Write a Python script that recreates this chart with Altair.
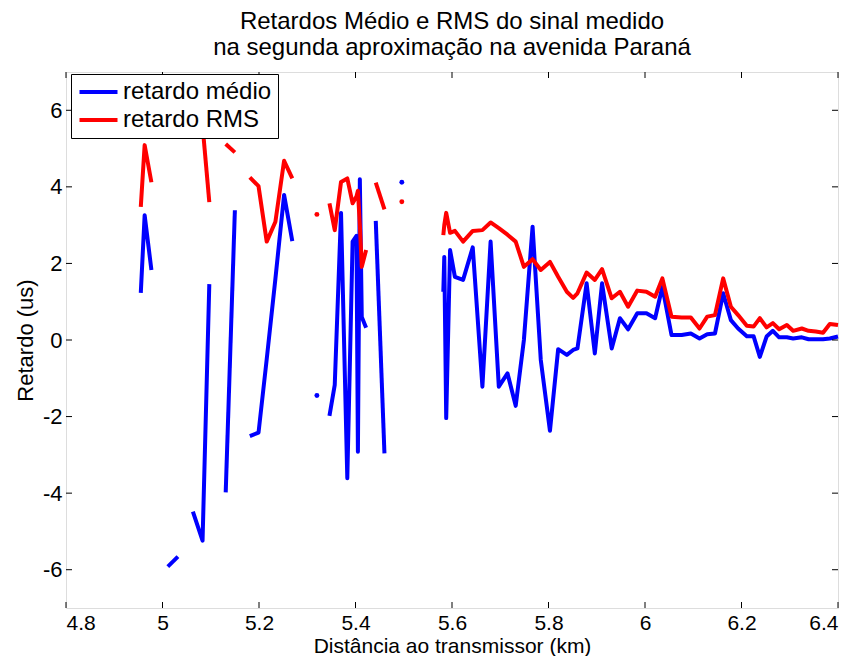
import altair as alt
import pandas as pd

x_km = [
    4.955, 4.963, 4.977,
    4.995,
    5.011, 5.032,
    5.048,
    5.063, 5.083, 5.097,
    5.114,
    5.131, 5.150,
    5.165,
    5.181, 5.199, 5.216, 5.234, 5.252, 5.269,
    5.290,
    5.320,
    5.333,
    5.346, 5.357, 5.370, 5.383, 5.394, 5.402, 5.405, 5.409, 5.413, 5.422,
    5.432,
    5.442, 5.460,
    5.478,
    5.496,
    5.540,
    5.582, 5.584, 5.588, 5.596, 5.606, 5.623, 5.643, 5.663, 5.680, 5.697,
    5.715, 5.732, 5.749, 5.767, 5.784, 5.803, 5.820, 5.838, 5.851, 5.860,
    5.879, 5.896, 5.911, 5.931, 5.948, 5.965, 5.984, 6.003, 6.021, 6.036,
    6.055, 6.076, 6.095, 6.113, 6.129, 6.145, 6.162, 6.178, 6.193, 6.211,
    6.225, 6.238, 6.252, 6.265, 6.278, 6.294, 6.307, 6.325, 6.339, 6.354,
    6.369, 6.383, 6.400,
]

retardo_medio = [
    1.23, 3.26, 1.83,
    None,
    -5.92, -5.66,
    None,
    -4.48, -5.24, 1.46,
    None,
    -3.98, 3.39,
    None,
    -2.51, -2.42, -0.50, 1.60, 3.79, 2.58,
    None,
    -1.45,
    None,
    -1.98, -1.17, 3.32, -3.61, 2.57, 2.72, -2.92, 4.20, 0.60, 0.32,
    None,
    3.11, -2.96,
    None,
    4.12,
    None,
    1.26, 2.17, -2.04, 2.35, 1.65, 1.57, 2.42, -1.22, 2.57, -1.22,
    -0.87, -1.72, 0.00, 2.96, -0.52, -2.37, -0.24, -0.39, -0.26, -0.22,
    1.48, -0.35, 1.48, -0.22, 0.57, 0.28, 0.70, 0.70, 0.57, 1.39,
    0.13, 0.13, 0.17, 0.04, 0.15, 0.17, 1.22, 0.52, 0.30, 0.10,
    0.10, -0.44, 0.09, 0.24, 0.07, 0.07, 0.04, 0.07, 0.02, 0.02,
    0.02, 0.04, 0.09,
]

retardo_rms = [
    3.48, 5.09, 4.12,
    None,
    None, None,
    None,
    None, 5.60, 3.60,
    None,
    5.12, 4.90,
    None,
    4.25, 4.02, 2.57, 3.09, 4.68, 4.22,
    None,
    3.28,
    None,
    3.57, 2.87, 4.13, 4.22, 3.57, 3.75, 3.90, 3.00, 1.91, 2.35,
    None,
    4.11, 3.41,
    None,
    3.61,
    None,
    2.74, 3.00, 3.32, 2.80, 2.85, 2.57, 2.85, 2.87, 3.07, 2.92,
    2.75, 2.57, 1.91, 2.11, 1.83, 2.04, 1.65, 1.26, 1.10, 1.22,
    1.76, 1.57, 1.85, 1.09, 1.26, 0.87, 1.29, 1.26, 1.13, 1.61,
    0.61, 0.59, 0.59, 0.30, 0.61, 0.65, 1.61, 0.87, 0.65, 0.37,
    0.35, 0.57, 0.33, 0.44, 0.28, 0.39, 0.24, 0.30, 0.24, 0.22,
    0.19, 0.42, 0.39,
]

series_names = ["retardo médio", "retardo RMS"]
series_colors = ["#0000ff", "#ff0000"]
x_ticks = [4.8, 5, 5.2, 5.4, 5.6, 5.8, 6, 6.2, 6.4]
y_ticks = [-6, -4, -2, 0, 2, 4, 6]

W, H = 772, 536
FONT = "Liberation Sans"


def rows_for(values, name):
    rows, seg, prev_gap = [], 0, True
    for x, v in zip(x_km, values):
        if v is None:
            if not prev_gap:
                seg += 1
            prev_gap = True
            continue
        prev_gap = False
        rows.append({"x": x, "y": v, "serie": name, "seg": seg})
    df = pd.DataFrame(rows)
    counts = df.groupby("seg")["seg"].transform("count")
    df["single"] = counts == 1
    return df


df_m = rows_for(retardo_medio, series_names[0])
df_r = rows_for(retardo_rms, series_names[1])
df_all = pd.concat([df_m, df_r], ignore_index=True)

x_scale = alt.Scale(domain=[4.8, 6.4], nice=False, zero=False)
y_scale = alt.Scale(domain=[-7, 7], nice=False, zero=False)
color = alt.Color(
    "serie:N",
    scale=alt.Scale(domain=series_names, range=series_colors),
    legend=alt.Legend(
        title=None,
        orient="none",
        legendX=5,
        legendY=2,
        symbolType="M-1,0H3",
        symbolStrokeWidth=4,
        symbolSize=361,
        labelFontSize=24,
        labelFont=FONT,
        labelColor="black",
        labelOffset=22,
        rowPadding=4,
        padding=6,
        fillColor="white",
        strokeColor="black",
        cornerRadius=0,
    ),
)

x_axis = alt.Axis(
    values=x_ticks,
    labelExpr="'' + datum.value",
    grid=False,
    ticks=False,
    domain=False,
    labelFontSize=21,
    labelFont=FONT,
    labelColor="black",
    labelPadding=4,
    titleFontSize=21,
    titleFont=FONT,
    titleFontWeight="normal",
    titleColor="black",
    titlePadding=2,
)
y_axis = alt.Axis(
    values=y_ticks,
    labelExpr="'' + datum.value",
    grid=False,
    ticks=False,
    domain=False,
    labelFontSize=22,
    labelFont=FONT,
    labelColor="black",
    labelPadding=4,
    titleFontSize=22,
    titleFont=FONT,
    titleFontWeight="normal",
    titleColor="black",
    titlePadding=5,
)
x_enc = alt.X("x:Q", scale=x_scale, title="Distância ao transmissor (km)", axis=x_axis)
y_enc = alt.Y("y:Q", scale=y_scale, title="Retardo (us)", axis=y_axis)

line_m = alt.Chart(df_m).mark_line(strokeWidth=4, strokeJoin="round").encode(
    x=x_enc, y=y_enc, color=color, detail="seg:N"
)
line_r = alt.Chart(df_r).mark_line(strokeWidth=4, strokeJoin="round").encode(
    x=x_enc, y=y_enc, color=color, detail="seg:N"
)
dots = alt.Chart(df_all).transform_filter("datum.single").mark_circle(
    size=24, opacity=1
).encode(x=x_enc, y=y_enc, color=color)

xt = pd.DataFrame({"x": x_ticks})
yt = pd.DataFrame({"y": y_ticks})
tick_style = dict(color="black", strokeWidth=1)
xb = alt.Chart(xt).mark_rule(**tick_style).encode(
    x=x_enc, y=alt.value(H), y2=alt.value(H - 6)
)
xtop = alt.Chart(xt).mark_rule(**tick_style).encode(
    x=x_enc, y=alt.value(0), y2=alt.value(6)
)
yl = alt.Chart(yt).mark_rule(**tick_style).encode(
    y=y_enc, x=alt.value(0), x2=alt.value(6)
)
yr = alt.Chart(yt).mark_rule(**tick_style).encode(
    y=y_enc, x=alt.value(W), x2=alt.value(W - 6)
)

chart = (
    alt.layer(line_m, line_r, dots, xb, xtop, yl, yr)
    .properties(
        width=W,
        height=H,
        autosize=alt.AutoSizeParams(type="none"),
        padding={"left": 58, "top": 64, "right": 4, "bottom": 48},
        title=alt.Title(
            ["Retardos Médio e RMS do sinal medido", "na segunda aproximação na avenida Paraná"],
            font=FONT,
            fontSize=24,
            fontWeight="normal",
            color="black",
            lineHeight=26,
            anchor="middle",
            offset=12,
        ),
    )
    .configure_view(stroke="black", strokeWidth=1)
    .configure(background="white")
)

chart.save("out.html", embed_options={"renderer": "svg", "actions": False})
